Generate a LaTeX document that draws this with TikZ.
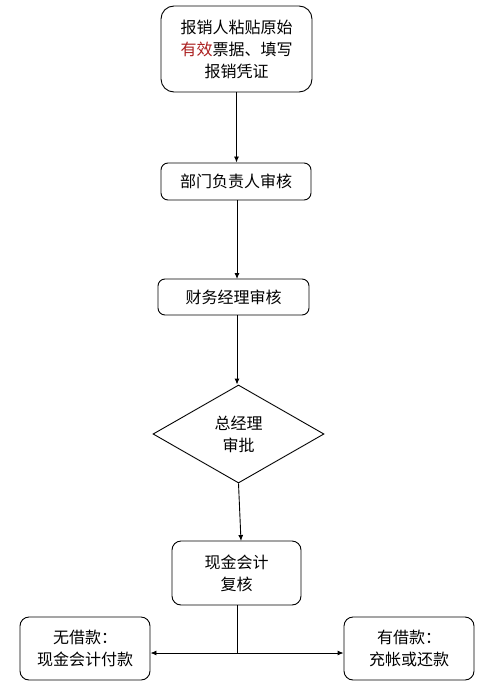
\documentclass[tikz,border=0pt]{standalone}
\usepackage{fontspec}
\setmainfont{Noto Sans CJK SC}
\usetikzlibrary{arrows.meta,shapes.geometric}
\definecolor{redtxt}{RGB}{170,30,30}
\begin{document}
\begin{tikzpicture}[x=1pt,y=-1pt,
  box/.style={draw,line width=0.9pt,rounded corners=9pt,align=center,font=\fontsize{16}{22}\selectfont},
  arr/.style={line width=0.9pt,-{Latex[length=6pt,width=5pt]}},
  ln/.style={line width=0.9pt}]
\useasboundingbox (0,0) rectangle (485,687);
\fill[white] (0,0) rectangle (485,687);
% boxes
\node[box,rounded corners=13pt,minimum width=151pt,minimum height=86pt] (b1) at (236.5,49)
  {报销人粘贴原始\\{\color{redtxt}有效}票据、填写\\报销凭证};
\node[box,rounded corners=7pt,minimum width=150pt,minimum height=37pt] (b2) at (236,181.5) {部门负责人审核};
\node[box,rounded corners=7pt,minimum width=151pt,minimum height=36pt] (b3) at (233.5,297) {财务经理审核};
\node[draw,line width=0.9pt,diamond,aspect=1.74,minimum width=171pt,minimum height=98pt,inner sep=0pt,align=center,font=\fontsize{16}{22}\selectfont] (d) at (238.5,434) {总经理\\审批};
\node[box,rounded corners=9pt,minimum width=129pt,minimum height=64pt] (b5) at (236.5,573) {现金会计\\复核};
\node[box,rounded corners=9pt,minimum width=130pt,minimum height=63pt] (b6) at (85,648.5) {无借款：\\现金会计付款};
\node[box,rounded corners=9pt,minimum width=130pt,minimum height=63pt] (b7) at (409,648.5) {有借款：\\充帐或还款};
% connectors
\draw[arr] (b1.south) -- (b2.north -| b1.south);
\draw[arr] (b2.south -| 237,0) -- (237,279);
\draw[arr] (237,315) -- (d.north -| 237,0);
\draw[arr] (d.south) -- (241,541);
\coordinate (j) at (237,653);
\draw[ln] (b5.south -| j) -- (j);
\draw[arr] (j) -- (b6.east |- j);
\draw[arr] (j) -- (b7.west |- j);
\end{tikzpicture}
\end{document}
